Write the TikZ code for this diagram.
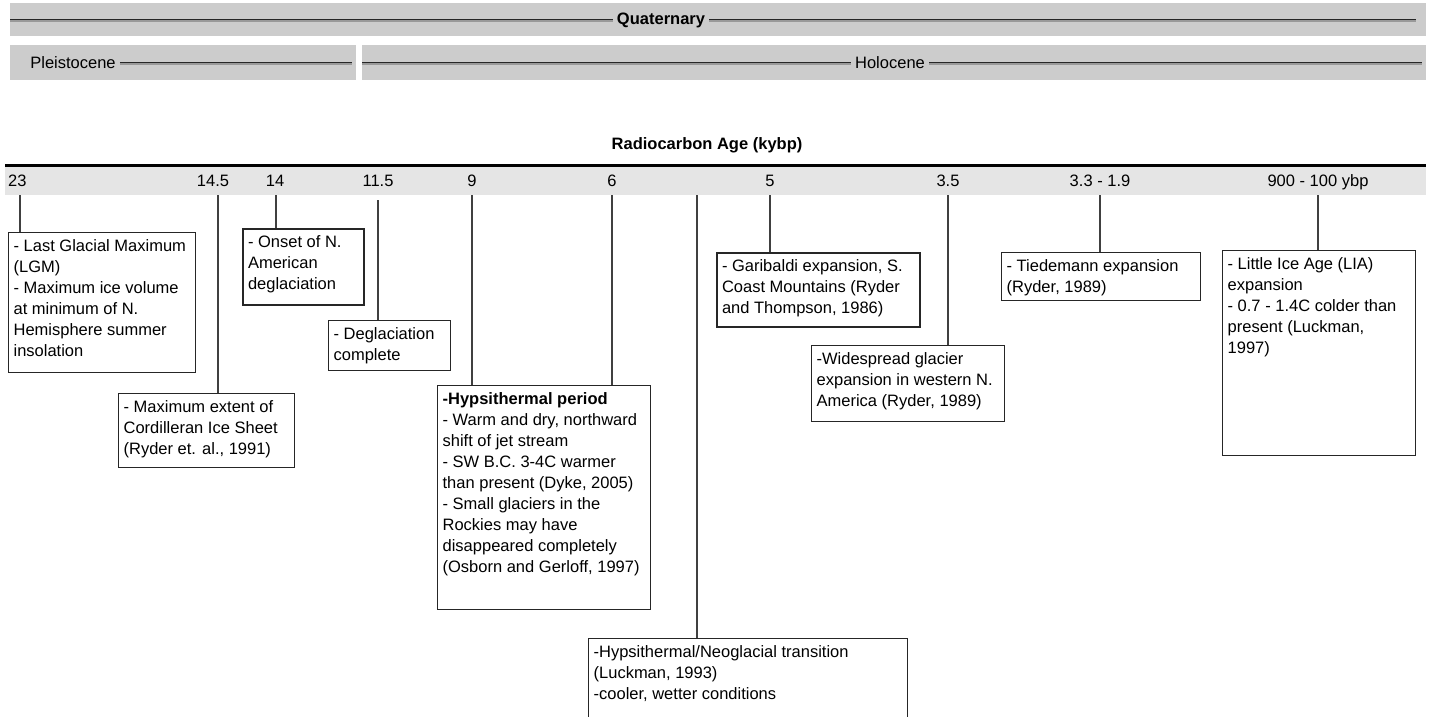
\documentclass[tikz,border=0pt]{standalone}
\usepackage{fontspec}
\setmainfont{Liberation Sans}

\newcommand{\evtext}[3]{\parbox[t][#1pt][t]{#2pt}{\strut #3}}

\begin{document}
\begin{tikzpicture}[x=1pt,y=-1pt,
  every node/.style={font=\fontsize{16.5}{21}\selectfont}
]

\tikzstyle{bar}=[fill=black!20,draw=none,anchor=north west,inner sep=0pt]
\tikzstyle{barlabel}=[fill=black!20,inner sep=4pt]
\tikzstyle{barline}=[black!85,line width=1pt,
  preaction={draw=black!40,line width=1.6pt,transform canvas={yshift=-0.9pt}}]
\tikzstyle{event}=[draw=black!85,line width=1.3pt,fill=white,anchor=north west,
  inner xsep=5pt,inner ysep=4pt]
\tikzstyle{age}=[anchor=base,inner sep=0pt]
\tikzstyle{tick}=[black!75,line width=1.5pt]

\useasboundingbox (0,0) rectangle (1432,717);

% periods
\node[bar,minimum width=1416pt,minimum height=33pt] (quat) at (10,3) {};
\node[bar,minimum width=346pt,minimum height=35pt] (pleist) at (10,45) {};
\node[bar,minimum width=1064pt,minimum height=35pt] (holo) at (362,45) {};

\node[barlabel,font=\fontsize{16.5}{21}\selectfont\bfseries] (qlab) at (661,20) {Quaternary};
\node[barlabel] (plab) at (73,63) {Pleistocene};
\node[barlabel] (hlab) at (890,63) {Holocene};

\draw[barline] (quat.west |- qlab) -- (qlab.west);
\draw[barline] (qlab.east) -- ([xshift=-10pt]quat.east |- qlab);
\draw[barline] (plab.east) -- ([xshift=-4pt]pleist.east |- plab);
\draw[barline] (holo.west |- hlab) -- (hlab.west);
\draw[barline] (hlab.east) -- ([xshift=-4pt]holo.east |- hlab);

% time axis
\node[font=\fontsize{16.5}{21}\selectfont\bfseries] (title) at (707,145) {Radiocarbon Age (kybp)};
\fill[black!10] (5,166) rectangle (1426,195);
\draw[line width=3pt] (5,165) -- (1426,165);

\node[age,anchor=base west] (a23) at (8,186) {23};
\node[age] (a145) at (213,186) {14.5};
\node[age] (a14) at (275,186) {14};
\node[age] (a115) at (378,186) {11.5};
\node[age] (a9) at (472,186) {9};
\node[age] (a6) at (612,186) {6};
\node[age] (a5) at (770,186) {5};
\node[age] (a35) at (948,186) {3.5};
\node[age] (a33) at (1100,186) {3.3 - 1.9};
\node[age] (a900) at (1318,186) {900 - 100 ybp};

\coordinate (k23) at (20,195);
\coordinate (k145) at (218,195);
\coordinate (k14) at (276,195);
\coordinate (k115) at (378,200);
\coordinate (k9) at (472,195);
\coordinate (k6) at (612,195);
\coordinate (k55) at (697,195);
\coordinate (k5) at (770,195);
\coordinate (k35) at (948,195);
\coordinate (k33) at (1100,195);
\coordinate (k900) at (1318,195);

% events
\node[event] (lgm) at (8,232) {\evtext{132}{177}{- Last Glacial Maximum\\(LGM)\\- Maximum ice volume\\at minimum of N.\\Hemisphere summer\\insolation}};
\node[event,line width=2pt] (onset) at (242,228) {\evtext{68}{111}{- Onset of N.\\American\\deglaciation}};
\node[event] (degl) at (328,320) {\evtext{42}{112}{- Deglaciation\\complete}};
\node[event] (cord) at (118,393) {\evtext{66}{166}{- Maximum extent of\\Cordilleran Ice Sheet\\(Ryder et. al., 1991)}};
\node[event] (hyps) at (437,385) {\evtext{216}{203}{\textbf{-Hypsithermal period}\\- Warm and dry, northward\\shift of jet stream\\- SW B.C. 3-4C warmer\\than present (Dyke, 2005)\\- Small glaciers in the\\Rockies may have\\disappeared completely\\(Osborn and Gerloff, 1997)}};
\node[event] (trans) at (588,638) {\evtext{82}{309}{-Hypsithermal/Neoglacial transition\\(Luckman, 1993)\\-cooler, wetter conditions}};
\node[event,line width=2pt] (gari) at (716,252) {\evtext{66}{193}{- Garibaldi expansion, S.\\Coast Mountains (Ryder\\and Thompson, 1986)}};
\node[event] (wide) at (811,345) {\evtext{68}{183}{-Widespread glacier\\expansion in western N.\\America (Ryder, 1989)}};
\node[event] (tied) at (1001,252) {\evtext{40}{189}{- Tiedemann expansion\\(Ryder, 1989)}};
\node[event] (lia) at (1222,250) {\evtext{197}{183}{- Little Ice Age (LIA)\\expansion\\- 0.7 - 1.4C colder than\\present (Luckman,\\1997)}};

% ticks
\draw[tick] (k23) -- (k23 |- lgm.north);
\draw[tick] (k145) -- (k145 |- cord.north);
\draw[tick] (k14) -- (k14 |- onset.north);
\draw[tick] (k115) -- (k115 |- degl.north);
\draw[tick] (k9) -- (k9 |- hyps.north);
\draw[tick] (k6) -- (k6 |- hyps.north);
\draw[tick] (k55) -- (k55 |- trans.north);
\draw[tick] (k5) -- (k5 |- gari.north);
\draw[tick] (k35) -- (k35 |- wide.north);
\draw[tick] (k33) -- (k33 |- tied.north);
\draw[tick] (k900) -- (k900 |- lia.north);
\end{tikzpicture}
\end{document}
